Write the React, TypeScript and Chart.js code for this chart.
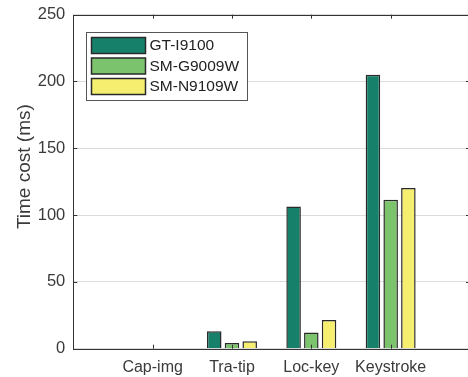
import React, { useEffect, useRef } from 'react';
import { Chart, registerables } from 'chart.js';

Chart.register(...registerables);

const categories = ['Cap-img', 'Tra-tip', 'Loc-key', 'Keystroke'];
const seriesNames = ['GT-I9100', 'SM-G9009W', 'SM-N9109W'];
const gtI9100 = [0.4, 13, 106.5, 205];
const smG9009W = [0.3, 4.3, 12.2, 111.5];
const smN9109W = [0.3, 5.5, 21.5, 120.2];
const yTicks = [0, 50, 100, 150, 200, 250];
const yTitle = 'Time cost (ms)';
const seriesColors = ['#17806A', '#7CC36D', '#F5EE6E'];

const FONT = "'Liberation Sans', Arial, Helvetica, sans-serif";
const TEXT = '#3a3a3a';

const boxPlugin = {
  id: 'boxAndLegend',
  afterDraw(chart: any) {
    const { ctx, chartArea } = chart;
    const { left, right, top, bottom } = chartArea;
    const xs = chart.scales.x;
    const ys = chart.scales.y;
    ctx.save();
    ctx.strokeStyle = '#333333';
    ctx.lineWidth = 1;
    ctx.strokeRect(Math.round(left) + 0.5, Math.round(top) + 0.5, Math.round(right - left), Math.round(bottom - top));
    ctx.beginPath();
    yTicks.forEach((v) => {
      const py = Math.round(ys.getPixelForValue(v)) + 0.5;
      ctx.moveTo(left, py);
      ctx.lineTo(left + 4, py);
      ctx.moveTo(right - 4, py);
      ctx.lineTo(right, py);
    });
    categories.forEach((_, i) => {
      const px = Math.round(xs.getPixelForValue(i + 1)) + 0.5;
      ctx.moveTo(px, bottom);
      ctx.lineTo(px, bottom - 4);
      ctx.moveTo(px, top);
      ctx.lineTo(px, top + 4);
    });
    ctx.stroke();

    ctx.save();
    ctx.translate(25, top + (bottom - top) * 0.455);
    ctx.rotate(-Math.PI / 2);
    ctx.font = `19px ${FONT}`;
    ctx.fillStyle = TEXT;
    ctx.textAlign = 'center';
    ctx.textBaseline = 'middle';
    ctx.fillText(yTitle, 0, 0);
    ctx.restore();

    const lx = Math.round(left + 12.5) + 0.5;
    const ly = Math.round(top + 17) + 0.5;
    const lw = 161;
    const lh = 68;
    ctx.fillStyle = '#ffffff';
    ctx.fillRect(lx, ly, lw, lh);
    ctx.strokeStyle = '#555555';
    ctx.lineWidth = 1;
    ctx.strokeRect(lx, ly, lw, lh);
    ctx.font = `15.5px ${FONT}`;
    ctx.textBaseline = 'middle';
    ctx.textAlign = 'left';
    chart.data.datasets.forEach((ds: any, i: number) => {
      const ry = ly + 5 + i * 20.5;
      ctx.fillStyle = ds.backgroundColor;
      ctx.fillRect(lx + 5, ry, 54, 16);
      ctx.strokeStyle = '#2a2a2a';
      ctx.lineWidth = 1.5;
      ctx.strokeRect(lx + 5, ry, 54, 16);
      ctx.fillStyle = '#222222';
      ctx.fillText(ds.label, lx + 63, ry + 8.5);
    });
    ctx.restore();
  },
};

export default function App() {
  const canvasRef = useRef<HTMLCanvasElement | null>(null);

  useEffect(() => {
    document.body.style.margin = '0';
    const canvas = canvasRef.current;
    if (!canvas) return;
    const labels = ['', ...categories, ''];
    const pad = (arr: number[]) => [null, ...arr, null];
    const seriesData = [gtI9100, smG9009W, smN9109W];
    const chart = new Chart(canvas, {
      type: 'bar',
      data: {
        labels,
        datasets: seriesNames.map((name, i) => ({
          label: name,
          data: pad(seriesData[i]) as any,
          backgroundColor: seriesColors[i],
          borderColor: '#2a2a2a',
          borderWidth: 1.5,
          borderSkipped: 'start',
          categoryPercentage: 0.67,
          barPercentage: 0.82,
        })),
      },
      options: {
        responsive: false,
        animation: false,
        devicePixelRatio: 1,
        layout: { padding: { left: 0, top: 14.7, right: 2, bottom: 0 } },
        plugins: {
          legend: { display: false },
          tooltip: { enabled: false },
          title: { display: false },
        },
        scales: {
          x: {
            type: 'category',
            offset: false,
            grid: { display: false, drawTicks: false },
            border: { display: false },
            ticks: {
              autoSkip: false,
              maxRotation: 0,
              padding: 9,
              color: TEXT,
              font: { family: FONT, size: 16 },
            },
            afterFit: (scale: any) => {
              scale.height = 28.3;
              scale.paddingLeft = 0;
              scale.paddingRight = 0;
            },
          },
          y: {
            min: 0,
            max: 250,
            grid: { color: '#dcdcdc', lineWidth: 1, drawTicks: false },
            border: { display: false },
            ticks: {
              stepSize: 50,
              padding: 8,
              color: TEXT,
              font: { family: FONT, size: 16.5 },
            },
            title: { display: false },
            afterFit: (scale: any) => {
              scale.width = 73.3;
              scale.paddingTop = 0;
              scale.paddingBottom = 0;
            },
          },
        },
      },
      plugins: [boxPlugin],
    });
    return () => chart.destroy();
  }, []);

  return (
    <div style={{ position: 'fixed', left: 0, top: 0, width: 468, height: 377, overflow: 'hidden', background: '#fff' }}>
      <canvas ref={canvasRef} width={472} height={377} style={{ width: 472, height: 377, display: 'block' }} />
    </div>
  );
}
